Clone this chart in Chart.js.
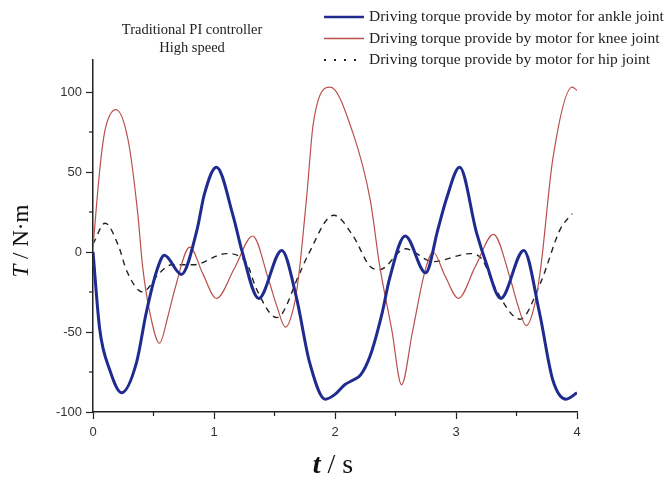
<!DOCTYPE html>
<html>
<head>
<meta charset="utf-8">
<script src="https://cdn.jsdelivr.net/npm/chart.js@4/dist/chart.umd.min.js"></script>
<style>
  html, body { margin: 0; padding: 0; background: #fff; }
</style>
</head>
<body>
<canvas id="myChart" width="671" height="479"></canvas>
<script>
// ankle joint torque (blue)
const ankleT = [0, 0.055, 0.14, 0.237, 0.36, 0.44, 0.53, 0.59, 0.73, 0.86, 0.92, 1.02, 1.16, 1.23, 1.37, 1.56, 1.68, 1.79, 1.92, 2.0, 2.08, 2.15, 2.21, 2.29, 2.39, 2.45, 2.58, 2.75, 2.85, 2.92, 3.03, 3.17, 3.25, 3.37, 3.56, 3.69, 3.80, 3.91, 4.0]
const ankleV = [0, -48, -74, -88, -69, -38, -11, -2, -14, 14, 36, 53, 22, 1, -29, 1, -28, -69, -92, -89, -83, -80, -77, -65, -38, -17, 10, -13, 14, 33, 53, 12, -7, -29, 1, -38, -80, -92, -88]

// knee joint torque (red)
const kneeT = [0, 0.058, 0.099, 0.19, 0.29, 0.37, 0.41, 0.47, 0.55, 0.62, 0.67, 0.80, 0.91, 1.02, 1.17, 1.32, 1.45, 1.52, 1.59, 1.66, 1.70, 1.77, 1.82, 1.96, 2.15, 2.29, 2.37, 2.47, 2.55, 2.64, 2.74, 2.81, 2.91, 3.02, 3.16, 3.31, 3.45, 3.51, 3.58, 3.65, 3.70, 3.80, 3.96, 4.0]
const kneeV = [3, 53, 76, 89, 70, 24, -9, -38, -57, -40, -25, 3, -14, -29, -10, 10, -17, -34, -47, -34, -15, 38, 80, 103, 74, 33, -9, -49, -83, -50, -13, 0, -15, -29, -9, 11, -17, -33, -46, -33, -10, 58, 103, 101]

// hip joint torque (dashed)
const hipT = [0, 0.10, 0.21, 0.28, 0.41, 0.55, 0.65, 0.83, 1.10, 1.27, 1.35, 1.52, 1.71, 1.77, 1.99, 2.15, 2.29, 2.37, 2.58, 2.81, 3.12, 3.22, 3.32, 3.53, 3.70, 3.86, 3.96]
const hipV = [5, 18, 4, -12, -25, -13, -8, -8, -1, -7, -23, -41, -13, -3, 23, 10, -9, -11, 2, -6, -1, -5, -22, -42, -19, 14, 24]

const seriesNames = [
  'Driving torque provide by motor for ankle joint',
  'Driving torque provide by motor for knee joint',
  'Driving torque provide by motor for hip joint'
]
const titleLines = ['Traditional PI controller', 'High speed']
const xTicks = [0, 1, 2, 3, 4]
const yTicks = [-100, -50, 0, 50, 100]
const xMinor = [0.5, 1.5, 2.5, 3.5]
const yMinor = [-75, -25, 25, 75]

const pts = (ts, vs) => ts.map((t, i) => ({ x: t, y: vs[i] }))
const SERIF = '"Liberation Serif", "Times New Roman", serif'
const SANS = '"Liberation Sans", Arial, sans-serif'

// titles, legend and minor ticks
const decor = {
  id: 'decor',
  afterDraw(chart) {
    const c = chart.ctx
    const xs = chart.scales.x
    const ys = chart.scales.y
    const area = chart.chartArea
    c.save()
    // minor ticks
    c.strokeStyle = '#222'
    c.lineWidth = 1.2
    xMinor.forEach(v => {
      const px = xs.getPixelForValue(v)
      c.beginPath(); c.moveTo(px, area.bottom); c.lineTo(px, area.bottom + 4); c.stroke()
    })
    yMinor.forEach(v => {
      const py = ys.getPixelForValue(v)
      c.beginPath(); c.moveTo(area.left, py); c.lineTo(area.left - 4, py); c.stroke()
    })

    // title
    c.fillStyle = '#222'
    c.textAlign = 'center'
    c.textBaseline = 'middle'
    c.font = '14.5px ' + SERIF
    c.fillText(titleLines[0], 192, 30)
    c.fillText(titleLines[1], 192, 48)

    // legend
    c.textAlign = 'left'
    c.font = '15.5px ' + SERIF
    chart.data.datasets.forEach((ds, i) => {
      const y = 17 + i * 21.5
      c.strokeStyle = ds.borderColor
      c.lineWidth = i === 0 ? 2.5 : (i === 2 ? 2 : 1.5)
      c.setLineDash(i === 2 ? [2, 8] : [])
      c.beginPath(); c.moveTo(324, y); c.lineTo(364, y); c.stroke()
      c.setLineDash([])
      c.fillStyle = '#222'
      c.fillText(seriesNames[i], 369, y)
    })

    // axis titles
    const drawParts = (parts, size) => {
      let w = 0
      parts.forEach(p => { c.font = p[1] + ' ' + size + 'px ' + SERIF; w += c.measureText(p[0]).width })
      let x = -w / 2
      parts.forEach(p => {
        c.font = p[1] + ' ' + size + 'px ' + SERIF
        c.fillText(p[0], x, 0)
        x += c.measureText(p[0]).width
      })
    }
    c.fillStyle = '#111'
    c.textAlign = 'left'
    c.save()
    c.translate(333, 466)
    drawParts([['t', 'italic bold'], [' / s', 'normal']], 28)
    c.restore()
    c.save()
    c.translate(22, 241)
    c.rotate(-Math.PI / 2)
    drawParts([['T', 'italic'], [' / N\u00b7m', 'normal']], 23)
    c.restore()
    c.restore()
  }
}

const ctx = document.getElementById('myChart')
const myChart = new Chart(ctx, {
  type: 'line',
  data: {
    datasets: [{
      label: seriesNames[0],
      data: pts(ankleT, ankleV),
      borderColor: '#1f2b8f',
      borderWidth: 3
    }, {
      label: seriesNames[1],
      data: pts(kneeT, kneeV),
      borderColor: '#b9504c',
      borderWidth: 1.2
    }, {
      label: seriesNames[2],
      data: pts(hipT, hipV),
      borderColor: '#222',
      borderWidth: 1.4,
      borderDash: [6, 5]
    }]
  },
  options: {
    responsive: false,
    animation: false,
    devicePixelRatio: 1,
    cubicInterpolationMode: 'monotone',
    elements: { point: { radius: 0 } },
    layout: { padding: { top: 60, right: 94, left: 0, bottom: 0 } },
    plugins: {
      legend: { display: false },
      title: { display: false },
      tooltip: { enabled: false }
    },
    scales: {
      x: {
        type: 'linear',
        min: 0,
        max: 4,
        afterBuildTicks: s => { s.ticks = xTicks.map(v => ({ value: v })) },
        afterFit: s => { s.height = 67 },
        grid: { drawOnChartArea: false, tickLength: 7, color: '#222', tickWidth: 1.2 },
        border: { color: '#222', width: 1.5 },
        ticks: { padding: 6, color: '#333', font: { family: SANS, size: 13 }, maxRotation: 0 }
      },
      y: {
        min: -100,
        max: 120,
        afterBuildTicks: s => { s.ticks = yTicks.map(v => ({ value: v })) },
        afterFit: s => { s.width = 93 },
        grid: { drawOnChartArea: false, tickLength: 7, color: '#222', tickWidth: 1.2 },
        border: { color: '#222', width: 1.5 },
        ticks: { padding: 4, color: '#333', font: { family: SANS, size: 13 } }
      }
    }
  },
  plugins: [decor]
})
</script>
</body>
</html>
